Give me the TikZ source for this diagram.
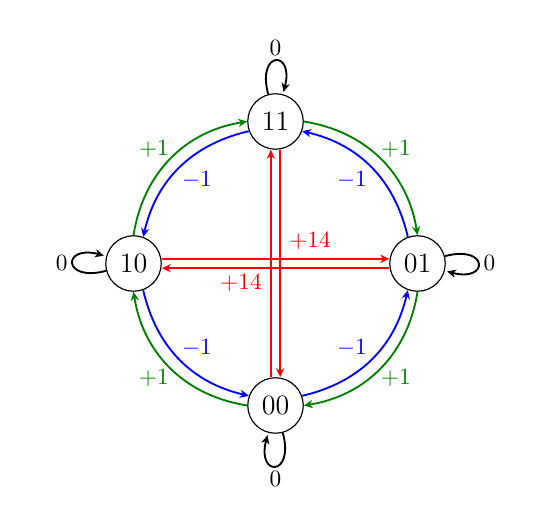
\documentclass[tikz,border=0pt]{standalone}
\usetikzlibrary{arrows.meta}
\begin{document}
\begin{tikzpicture}[x=0.429pt,y=0.429pt,
  >={Stealth[length=3.8pt,width=3.5pt,inset=1.2pt]},
  state/.style={circle,draw,line width=0.5pt,minimum size=23.8pt,inner sep=1pt,font=\large},
  lbl/.style={inner sep=0pt},
  conn/.style={line width=0.8pt,->},
  gr/.style={color={rgb,255:red,0;green,128;blue,0}},
  loopl/.style={inner sep=2pt}]
\useasboundingbox (0,0) rectangle (537,517);
\node[state] (n11) at (275.5,395.5) {11};
\node[state] (n10) at (133.5,253.5) {10};
\node[state] (n01) at (417.5,253.5) {01};
\node[state] (n00) at (275.5,111.5) {00};
% self loops
\draw[conn] (n11) edge[loop above] node[above,loopl] {$0$} (n11);
\draw[conn] (n10) edge[loop left] node[left,loopl] {$0$} (n10);
\draw[conn] (n01) edge[loop right] node[right,loopl] {$0$} (n01);
\draw[conn] (n00) edge[loop below] node[below,loopl] {$0$} (n00);
% green outer arcs
\draw[conn,gr] (n10.90) to[bend left=36] (n11.180);
\draw[conn,gr] (n11.0) to[bend left=36] (n01.90);
\draw[conn,gr] (n01.270) to[bend left=36] (n00.0);
\draw[conn,gr] (n00.180) to[bend left=36] (n10.270);
% blue inner arcs
\draw[conn,blue] (n11.200) to[bend right=32] (n10.70);
\draw[conn,blue] (n01.110) to[bend right=32] (n11.340);
\draw[conn,blue] (n00.20) to[bend right=32] (n01.250);
\draw[conn,blue] (n10.290) to[bend right=32] (n00.160);
% red straight
\draw[conn,red] ([xshift=-2pt]n00.north) -- ([xshift=-2pt]n11.south);
\draw[conn,red] ([xshift=2pt]n11.south) -- ([xshift=2pt]n00.north);
\draw[conn,red] ([yshift=2pt]n10.east) -- ([yshift=2pt]n01.west);
\draw[conn,red] ([yshift=-2pt]n01.west) -- ([yshift=-2pt]n10.east);
% labels
\node[lbl,gr] (g1) at (154,368) {$+1$};
\node[lbl,gr] (g2) at (396,368) {$+1$};
\node[lbl,gr] (g3) at (396,139) {$+1$};
\node[lbl,gr] (g4) at (154,139) {$+1$};
\node[lbl,blue] (b1) at (197,337) {$-1$};
\node[lbl,blue] (b2) at (352,337) {$-1$};
\node[lbl,blue] (b3) at (352,169) {$-1$};
\node[lbl,blue] (b4) at (197,169) {$-1$};
\node[lbl,red] (r1) at (310,276) {$+14$};
\node[lbl,red] (r2) at (241,234) {$+14$};
\end{tikzpicture}
\end{document}
